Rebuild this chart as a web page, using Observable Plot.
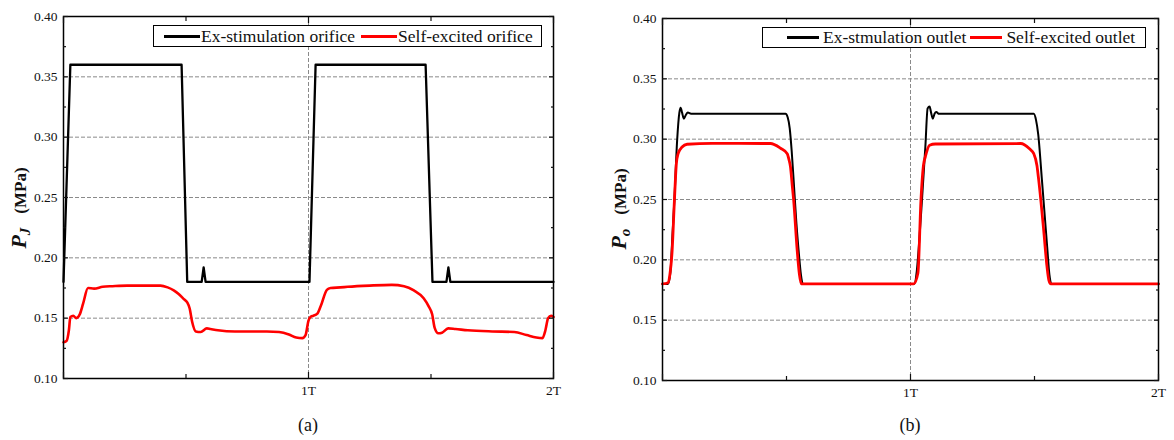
<!DOCTYPE html>
<html>
<head>
<meta charset="utf-8">
<script src="https://cdn.jsdelivr.net/npm/d3@7"></script>
<script src="https://cdn.jsdelivr.net/npm/@observablehq/plot@0.6"></script>
<style>
  body { margin: 0; background: #fff; }
  #wrap { position: relative; width: 1174px; height: 440px; overflow: hidden; font-family: "Liberation Serif", "Times New Roman", serif; color: #111; }
  #wrap svg { position: absolute; top: 0; }
  .legend { position: absolute; box-sizing: border-box; border: 1px solid #000; background: #fff; display: flex; align-items: center; font-size: 17.5px; white-space: nowrap; }
  .sw { display: inline-block; height: 3px; }
  .ylab { position: absolute; transform: translate(-50%, -50%) rotate(-90deg); white-space: nowrap; font-weight: bold; line-height: 1; font-family: "Liberation Serif", serif; }
  .cap { position: absolute; transform: translate(-50%, -50%); font-size: 18px; }
</style>
</head>
<body>
<div id="wrap"></div>
<script>
// ---------- data ----------
const yMajor = [0.10, 0.15, 0.20, 0.25, 0.30, 0.35, 0.40];
const yMinor = [0.125, 0.175, 0.225, 0.275, 0.325, 0.375];
const yGrid = [0.15, 0.20, 0.25, 0.30, 0.35];
const xMajor = [0, 1, 2];
const xMinor = [0.5, 1.5];
const xTickLabels = ["", "1T", "2T"];
const xGrid = [1];

// (a) orifice
const orificeExT = [0, 0.028, 0.482, 0.505, 0.564, 0.572, 0.580, 1.004, 1.029, 1.478, 1.506, 1.563, 1.571, 1.579, 2.0];
const orificeExP = [0.180, 0.360, 0.360, 0.180, 0.180, 0.192, 0.180, 0.180, 0.360, 0.360, 0.180, 0.180, 0.192, 0.180, 0.180];

const orificeSelfT = [0, 0.012, 0.022, 0.028, 0.040, 0.052, 0.066, 0.080, 0.100, 0.125, 0.160, 0.200, 0.260, 0.330, 0.396, 0.425, 0.450, 0.470, 0.490, 0.505, 0.515, 0.525, 0.540, 0.560, 0.585, 0.600, 0.630, 0.700, 0.760, 0.830, 0.880, 0.920, 0.950, 0.975, 0.988, 1.000, 1.008, 1.020, 1.035, 1.050, 1.075, 1.090, 1.130, 1.160, 1.250, 1.340, 1.390, 1.430, 1.470, 1.490, 1.505, 1.515, 1.530, 1.545, 1.570, 1.600, 1.650, 1.750, 1.840, 1.890, 1.930, 1.955, 1.967, 1.978, 1.990, 2.000];
const orificeSelfP = [0.130, 0.131, 0.140, 0.151, 0.152, 0.150, 0.153, 0.162, 0.175, 0.1745, 0.176, 0.1765, 0.177, 0.177, 0.177, 0.1755, 0.173, 0.170, 0.166, 0.163, 0.158, 0.147, 0.139, 0.1385, 0.1415, 0.141, 0.140, 0.139, 0.139, 0.139, 0.1385, 0.1365, 0.134, 0.1335, 0.136, 0.148, 0.151, 0.152, 0.1535, 0.160, 0.1735, 0.175, 0.1755, 0.176, 0.177, 0.1776, 0.1765, 0.173, 0.1665, 0.160, 0.153, 0.142, 0.1375, 0.138, 0.1415, 0.141, 0.140, 0.139, 0.1385, 0.136, 0.134, 0.1335, 0.140, 0.150, 0.152, 0.151];

// (b) outlet
const outletExT = [0, 0.022, 0.032, 0.040, 0.048, 0.059, 0.068, 0.073, 0.079, 0.086, 0.094, 0.102, 0.115, 0.300, 0.496, 0.505, 0.513, 0.521, 0.530, 0.540, 0.550, 0.558, 0.566, 1.000, 1.015, 1.025, 1.035, 1.047, 1.060, 1.069, 1.077, 1.083, 1.090, 1.097, 1.104, 1.115, 1.300, 1.497, 1.506, 1.515, 1.530, 1.551, 1.560, 1.568, 2.000];
const outletExP = [0.180, 0.180, 0.190, 0.220, 0.250, 0.299, 0.322, 0.326, 0.322, 0.317, 0.320, 0.322, 0.321, 0.321, 0.321, 0.318, 0.309, 0.290, 0.262, 0.230, 0.205, 0.188, 0.180, 0.180, 0.180, 0.190, 0.215, 0.252, 0.294, 0.3255, 0.327, 0.322, 0.317, 0.321, 0.3225, 0.321, 0.321, 0.321, 0.316, 0.304, 0.266, 0.211, 0.188, 0.180, 0.180];

const outletSelfT = [0, 0.022, 0.030, 0.039, 0.048, 0.056, 0.063, 0.079, 0.099, 0.200, 0.435, 0.476, 0.503, 0.510, 0.516, 0.523, 0.529, 0.543, 0.552, 0.560, 1.013, 1.030, 1.042, 1.052, 1.060, 1.077, 1.100, 1.444, 1.480, 1.497, 1.510, 1.517, 1.537, 1.550, 1.558, 1.566, 2.000];
const outletSelfP = [0.180, 0.181, 0.188, 0.208, 0.249, 0.280, 0.288, 0.2935, 0.2958, 0.2965, 0.2964, 0.2925, 0.288, 0.283, 0.277, 0.262, 0.249, 0.208, 0.188, 0.180, 0.180, 0.189, 0.249, 0.278, 0.2855, 0.295, 0.296, 0.2964, 0.292, 0.288, 0.278, 0.266, 0.2246, 0.195, 0.183, 0.180, 0.180];

// ---------- build ----------
const zip = (T, P) => T.map((t, i) => ({t, p: P[i]}));
const noText = () => "";

function panel(o) {
  return Plot.plot({
    width: o.width, height: 440,
    marginLeft: o.ml, marginRight: o.mr, marginTop: o.mt, marginBottom: o.mb,
    style: {fontFamily: "'Liberation Serif', 'Times New Roman', serif", fontSize: "13.5px", color: "#111", background: "transparent", overflow: "visible"},
    x: {domain: [0, 2]},
    y: {domain: [0.10, 0.40]},
    marks: [
      Plot.gridY(yGrid, {stroke: "#8a8a8a", strokeOpacity: 1, strokeWidth: 1, strokeDasharray: "4,2"}),
      Plot.gridX(xGrid, {stroke: "#8a8a8a", strokeOpacity: 1, strokeWidth: 1, strokeDasharray: "4,2"}),
      Plot.line(zip(o.exT, o.exP), {x: "t", y: "p", stroke: "#000", strokeWidth: o.exW, curve: o.exCurve}),
      Plot.line(zip(o.selfT, o.selfP), {x: "t", y: "p", stroke: "#ff0000", strokeWidth: o.selfW, curve: "monotone-x"}),
      Plot.frame({stroke: "#000", strokeWidth: 1.5}),
      Plot.axisY(yMajor, {anchor: "left", tickSize: -5, tickPadding: 11, tickFormat: d => d.toFixed(2), label: null, strokeWidth: 1.2}),
      Plot.axisY(yMinor, {anchor: "left", tickSize: -3, tickFormat: noText, label: null, strokeWidth: 1.2}),
      Plot.axisY(yMajor, {anchor: "right", tickSize: -5, tickFormat: noText, label: null, strokeWidth: 1.2}),
      Plot.axisY(yMinor, {anchor: "right", tickSize: -3, tickFormat: noText, label: null, strokeWidth: 1.2}),
      Plot.axisX(xMajor, {anchor: "bottom", tickSize: -6, tickPadding: 13, tickFormat: d => xTickLabels[xMajor.indexOf(d)], label: null, strokeWidth: 1.2}),
      Plot.axisX(xMinor, {anchor: "bottom", tickSize: -4, tickFormat: noText, label: null, strokeWidth: 1.2}),
      Plot.axisX(xMajor, {anchor: "top", tickSize: -6, tickFormat: noText, label: null, strokeWidth: 1.2}),
      Plot.axisX(xMinor, {anchor: "top", tickSize: -4, tickFormat: noText, label: null, strokeWidth: 1.2})
    ]
  });
}

const wrap = document.getElementById("wrap");

const a = panel({width: 590, ml: 63, mr: 37, mt: 16, mb: 62,
  exT: orificeExT, exP: orificeExP, selfT: orificeSelfT, selfP: orificeSelfP,
  exW: 2.3, selfW: 2.6, exCurve: "linear"});
a.style.left = "0px";
wrap.appendChild(a);

const b = panel({width: 587, ml: 75, mr: 16, mt: 18, mb: 60,
  exT: outletExT, exP: outletExP, selfT: outletSelfT, selfP: outletSelfP,
  exW: 2.0, selfW: 2.8, exCurve: "monotone-x"});
b.style.left = "587px";
wrap.appendChild(b);

function legend(x, y, w, h, items, padL, swW, gap1, gap2) {
  const d = document.createElement("div");
  d.className = "legend";
  Object.assign(d.style, {left: x + "px", top: y + "px", width: w + "px", height: h + "px", paddingLeft: padL + "px"});
  items.forEach((it, i) => {
    const s = document.createElement("span");
    s.className = "sw";
    s.style.width = swW + "px";
    s.style.background = it.color;
    if (i > 0) s.style.marginLeft = gap2 + "px";
    const t = document.createElement("span");
    t.textContent = it.label;
    t.style.marginLeft = gap1 + "px";
    d.appendChild(s); d.appendChild(t);
  });
  wrap.appendChild(d);
}
legend(153, 25, 389, 22, [{color: "#000", label: "Ex-stimulation orifice"}, {color: "#ff0000", label: "Self-excited orifice"}], 10, 36, 1, 6);
legend(762, 27, 384, 21, [{color: "#000", label: "Ex-stmulation outlet"}, {color: "#ff0000", label: "Self-excited outlet"}], 24, 32, 4, 4);

function ylab(x, y, sub) {
  const d = document.createElement("div");
  d.className = "ylab";
  d.style.left = x + "px"; d.style.top = y + "px";
  d.innerHTML = '<i style="font-size:22px">P</i><i style="font-size:15px; position:relative; top:4px">' + sub + '</i><span style="display:inline-block; width:14px"></span><span style="font-size:17px">(MPa)</span>';
  wrap.appendChild(d);
}
ylab(19, 208, "J");
ylab(619, 209, "o");

function cap(x, y, text) {
  const d = document.createElement("div");
  d.className = "cap";
  d.style.left = x + "px"; d.style.top = y + "px";
  d.textContent = text;
  wrap.appendChild(d);
}
cap(308, 425, "(a)");
cap(910, 425, "(b)");
</script>
</body>
</html>
